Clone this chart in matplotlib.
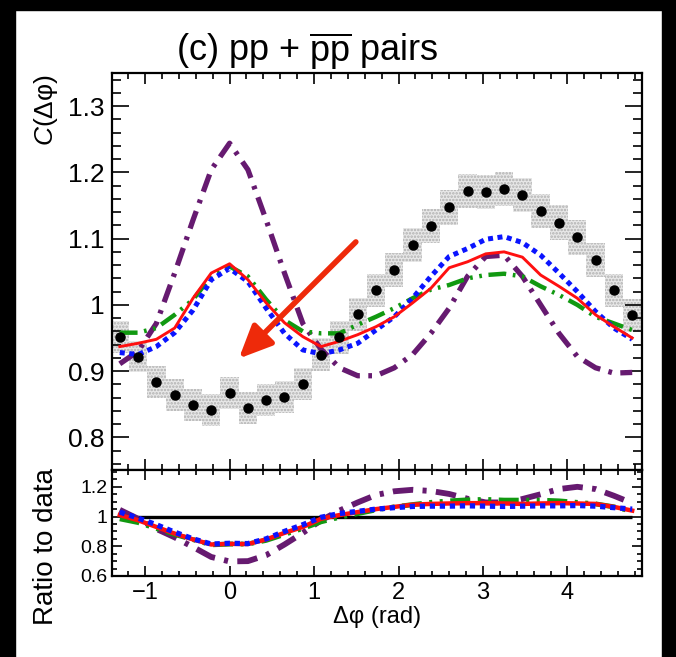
import numpy as np
import matplotlib.pyplot as plt
from matplotlib.ticker import MultipleLocator, FuncFormatter
from matplotlib.patches import Rectangle

plt.rcParams['font.family'] = ['Liberation Sans', 'DejaVu Sans']
plt.rcParams['mathtext.fontset'] = 'custom'
plt.rcParams['mathtext.rm'] = 'Liberation Sans'
plt.rcParams['mathtext.it'] = 'Liberation Sans:italic'
plt.rcParams['hatch.linewidth'] = 1.2

# bin centres (29 bins over 2pi)
dphi = [-1.300, -1.083, -0.867, -0.650, -0.433, -0.217, 0.000, 0.217, 0.433, 0.650,
        0.867, 1.083, 1.300, 1.517, 1.733, 1.950, 2.167, 2.383, 2.600, 2.817,
        3.033, 3.250, 3.467, 3.683, 3.900, 4.117, 4.333, 4.550, 4.767]
bin_w = 0.2167

# data
corr = [0.951, 0.922, 0.883, 0.864, 0.849, 0.841, 0.867, 0.844, 0.856, 0.861,
        0.881, 0.925, 0.951, 0.986, 1.022, 1.053, 1.090, 1.119, 1.147, 1.172,
        1.170, 1.175, 1.166, 1.142, 1.124, 1.102, 1.068, 1.022, 0.984]
syst = [0.024, 0.024, 0.024, 0.024, 0.024, 0.024, 0.024, 0.024, 0.024, 0.024,
        0.024, 0.025, 0.025, 0.025, 0.025, 0.026, 0.026, 0.026, 0.026, 0.026,
        0.026, 0.026, 0.026, 0.026, 0.026, 0.026, 0.026, 0.025, 0.025]

# models
red = [0.937, 0.942, 0.948, 0.965, 1.010, 1.048, 1.062, 1.038, 1.003, 0.973,
       0.952, 0.937, 0.945, 0.955, 0.967, 0.982, 1.003, 1.025, 1.056, 1.065,
       1.077, 1.080, 1.072, 1.045, 1.028, 1.010, 0.985, 0.967, 0.950]
blue = [0.928, 0.925, 0.937, 0.958, 0.992, 1.038, 1.055, 1.035, 0.995, 0.957,
        0.932, 0.926, 0.932, 0.942, 0.962, 0.982, 1.010, 1.043, 1.073, 1.085,
        1.099, 1.103, 1.094, 1.075, 1.048, 1.020, 0.990, 0.965, 0.948]
green = [0.958, 0.958, 0.965, 0.985, 1.008, 1.043, 1.058, 1.043, 1.008, 0.977,
         0.960, 0.957, 0.957, 0.970, 0.982, 0.995, 1.010, 1.023, 1.030, 1.040,
         1.045, 1.047, 1.043, 1.028, 1.015, 1.000, 0.982, 0.972, 0.962]
purple = [0.911, 0.930, 0.972, 1.048, 1.128, 1.204, 1.244, 1.204, 1.128, 1.048,
          0.972, 0.933, 0.905, 0.893, 0.893, 0.905, 0.925, 0.957, 0.995, 1.043,
          1.073, 1.075, 1.043, 1.000, 0.957, 0.922, 0.905, 0.897, 0.898]

# ratios to data
red_r = [1.010, 0.975, 0.930, 0.885, 0.846, 0.812, 0.816, 0.815, 0.846, 0.890,
         0.930, 0.985, 1.010, 1.030, 1.050, 1.065, 1.080, 1.085, 1.088, 1.090,
         1.090, 1.088, 1.085, 1.088, 1.090, 1.088, 1.085, 1.065, 1.040]
blue_r = [1.030, 0.990, 0.945, 0.895, 0.850, 0.815, 0.820, 0.818, 0.850, 0.900,
          0.945, 0.995, 1.020, 1.035, 1.050, 1.060, 1.068, 1.070, 1.070, 1.072,
          1.070, 1.068, 1.070, 1.072, 1.072, 1.074, 1.070, 1.060, 1.050]
green_r = [0.985, 0.960, 0.920, 0.880, 0.845, 0.810, 0.815, 0.815, 0.840, 0.880,
           0.920, 0.965, 0.995, 1.020, 1.045, 1.065, 1.080, 1.095, 1.105, 1.112,
           1.115, 1.110, 1.110, 1.110, 1.105, 1.095, 1.085, 1.065, 1.035]
purple_r = [1.045, 0.985, 0.917, 0.860, 0.795, 0.728, 0.698, 0.700, 0.740, 0.812,
            0.890, 0.975, 1.040, 1.095, 1.145, 1.170, 1.180, 1.172, 1.152, 1.120,
            1.095, 1.095, 1.118, 1.150, 1.185, 1.200, 1.185, 1.140, 1.090]

c_red = '#ff1010'
c_blue = '#0a14ff'
c_green = '#119911'
c_purple = '#661a70'
c_arrow = '#ee2a0a'

ls_purple = (0, (3.5, 1.6, 0.7, 1.6))
ls_green = (0, (4, 1.5, 0.6, 1.5, 0.6, 1.5))
ls_blue = (0, (1, 0.9))

fig = plt.figure(figsize=(6.76, 6.57), dpi=100)
ax = fig.add_axes([0.1652, 0.2839, 0.7850, 0.6050])
ax2 = fig.add_axes([0.1652, 0.1233, 0.7850, 0.1606])

# systematic boxes
lo = [c - s for c, s in zip(corr, syst)]
ax.bar(dphi, [2 * s for s in syst], width=bin_w, bottom=lo, color='#e8e8e8',
       edgecolor='#b0b0b0', hatch='.....', linewidth=0, zorder=1)

ax.plot(dphi, purple, color=c_purple, lw=3.8, ls=ls_purple, zorder=3)
ax.plot(dphi, green, color=c_green, lw=3.2, ls=ls_green, zorder=3)
ax.plot(dphi, blue, color=c_blue, lw=3.6, ls=ls_blue, zorder=4)
ax.plot(dphi, red, color=c_red, lw=2.1, zorder=5)
ax.plot(dphi, corr, 'o', color='k', ms=6.5, zorder=6)

ax.annotate('', xy=(0.11, 0.919), xytext=(1.495, 1.095),
            arrowprops=dict(arrowstyle='-|>,head_length=1.0,head_width=0.45',
                            color=c_arrow, lw=4, mutation_scale=20,
                            shrinkA=0, shrinkB=0), zorder=7)

ax.set_xlim(-1.396, 4.887)
ax.set_ylim(0.75, 1.35)

# ratio panel
ax2.hlines(1.0, dphi[0], dphi[-1], color='k', lw=2.4, zorder=2)
ax2.plot(dphi, purple_r, color=c_purple, lw=4.2, ls=ls_purple, zorder=3)
ax2.plot(dphi, green_r, color=c_green, lw=3.6, ls=ls_green, zorder=3)
ax2.plot(dphi, red_r, color=c_red, lw=3.2, zorder=4)
ax2.plot(dphi, blue_r, color=c_blue, lw=3.8, ls=ls_blue, zorder=5)
ax2.set_xlim(-1.396, 4.887)
ax2.set_ylim(0.6, 1.31)

fmt = FuncFormatter(lambda v, p: '%g' % round(v, 3))

for a in (ax, ax2):
    a.xaxis.set_major_locator(MultipleLocator(1))
    a.xaxis.set_minor_locator(MultipleLocator(0.2))
    a.tick_params(which='both', direction='in', top=True, right=True, width=1.2)
    for s in a.spines.values():
        s.set_linewidth(1.6)

ax.yaxis.set_major_locator(MultipleLocator(0.1))
ax.yaxis.set_minor_locator(MultipleLocator(0.02))
ax.yaxis.set_major_formatter(fmt)
ax.tick_params(axis='y', which='major', length=12.5, labelsize=19, pad=5)
ax.tick_params(axis='y', which='minor', length=6.5)
ax.tick_params(axis='x', which='major', length=8, labelbottom=False)
ax.tick_params(axis='x', which='minor', length=4.3)

ax2.yaxis.set_major_locator(MultipleLocator(0.2))
ax2.yaxis.set_minor_locator(MultipleLocator(0.05))
ax2.yaxis.set_major_formatter(fmt)
ax2.tick_params(axis='y', which='major', length=7, labelsize=14, pad=3)
ax2.tick_params(axis='y', which='minor', length=3.6)
ax2.tick_params(axis='x', which='major', length=7, labelsize=17, pad=4)
ax2.tick_params(axis='x', which='minor', length=3.6)

fig.text(176 / 676, 1 - 62 / 657, r'(c) pp + $\overline{\mathrm{pp}}$ pairs',
         fontsize=26, ha='left', va='baseline')
fig.text(46 / 676, 1 - 74 / 657, r'$C$(Δφ)', fontsize=19, rotation=90,
         ha='center', va='top')
fig.text(46 / 676, 1 - 547 / 657, 'Ratio to data', fontsize=20, rotation=90,
         ha='center', va='center')
fig.text(377 / 676, 1 - 617 / 657, 'Δφ (rad)', fontsize=17, ha='center', va='center')

# black frame around the picture
fig.patches.append(Rectangle((0, 0), 15 / 676, 1, transform=fig.transFigure,
                             color='k', zorder=-1))
fig.patches.append(Rectangle((0, 1 - 10 / 657), 1, 10 / 657, transform=fig.transFigure,
                             color='k', zorder=-1))
fig.patches.append(Rectangle((1 - 14 / 676, 0), 14 / 676, 1, transform=fig.transFigure,
                             color='k', zorder=-1))

fig.savefig('out.png', dpi=100)
